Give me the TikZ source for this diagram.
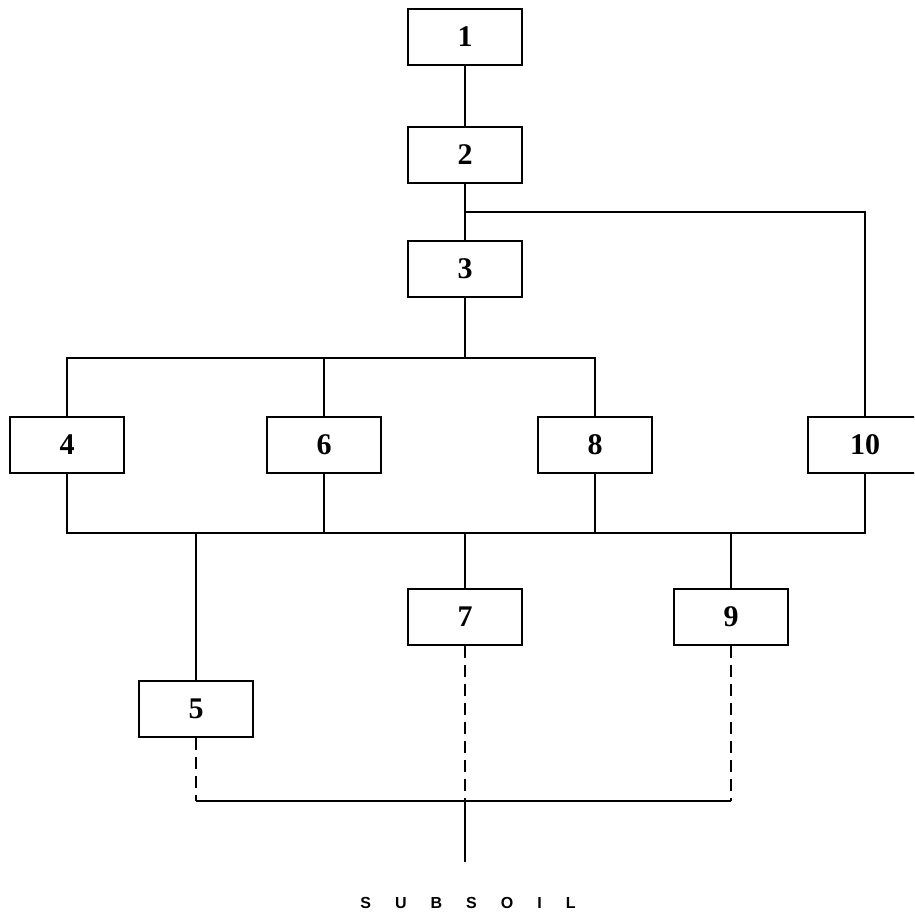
\documentclass[tikz,border=0pt]{standalone}
\usepackage{fontspec}
\setmainfont{Liberation Serif}
\setsansfont{Liberation Sans}
\usetikzlibrary{positioning,calc}

\begin{document}
\begin{tikzpicture}[x=1pt, y=-1pt,
    unit/.style={draw, line width=1.8pt, minimum width=114pt, minimum height=56pt,
                 inner sep=0pt, font=\fontsize{30}{32}\selectfont\bfseries},
    link/.style={line width=1.8pt},
    seep/.style={line width=1.8pt, dash pattern=on 12pt off 7pt}
]
  \useasboundingbox (0,0) rectangle (914,918);
  \clip (0,0) rectangle (914,918);
  % upper chain
  \node[unit] (u1) at (465,37) {1};
  \node[unit] (u2) at (465,155) {2};
  \node[unit] (u3) at (465,269) {3};
  % middle row
  \node[unit] (u4) at (67,445) {4};
  \node[unit] (u6) at (324,445) {6};
  \node[unit] (u8) at (595,445) {8};
  \node[unit] (u10) at (865,445) {10};
  % lower row
  \node[unit] (u7) at (465,617) {7};
  \node[unit] (u9) at (731,617) {9};
  \node[unit] (u5) at (196,709) {5};
  % label at the foot
  \node[font=\sffamily\bfseries\fontsize{16}{18}\selectfont] (soil) at (468,903)
    {\spaceskip=24pt S U B S O I L};

  \coordinate (fork) at ($(u2.south)!0.5!(u3.north)$);
  \coordinate (upbus) at (465,358);
  \coordinate (lowbus) at (465,533);
  \coordinate (sink) at (465,801);
  \coordinate (soiltop) at (465,862);

  % 1 - 2 - 3, branch to 10
  \draw[link] (u1) -- (u2);
  \draw[link] (u2) -- (u3);
  \draw[link] (fork) -| (u10.north);
  % 3 to 4, 6, 8
  \draw[link] (u3.south) -- (upbus);
  \draw[link] (u4.north) -- (u4.north |- upbus) -- (u8.north |- upbus) -- (u8.north);
  \draw[link] (u6.north) -- (u6.north |- upbus);
  % collector below 4, 6, 8, 10
  \draw[link] (u4.south) -- (u4.south |- lowbus) -- (u10.south |- lowbus) -- (u10.south);
  \foreach \n in {6,8}
    \draw[link] (u\n.south) -- (u\n.south |- lowbus);
  \foreach \n in {5,7,9}
    \draw[link] (u\n.north |- lowbus) -- (u\n.north);
  % seepage down to the subsoil
  \foreach \n in {5,7,9}
    \draw[seep] (u\n.south) -- (u\n.south |- sink);
  \draw[link] (u5.south |- sink) -- (u9.south |- sink);
  \draw[link] (sink) -- (soiltop);
\end{tikzpicture}
\end{document}
